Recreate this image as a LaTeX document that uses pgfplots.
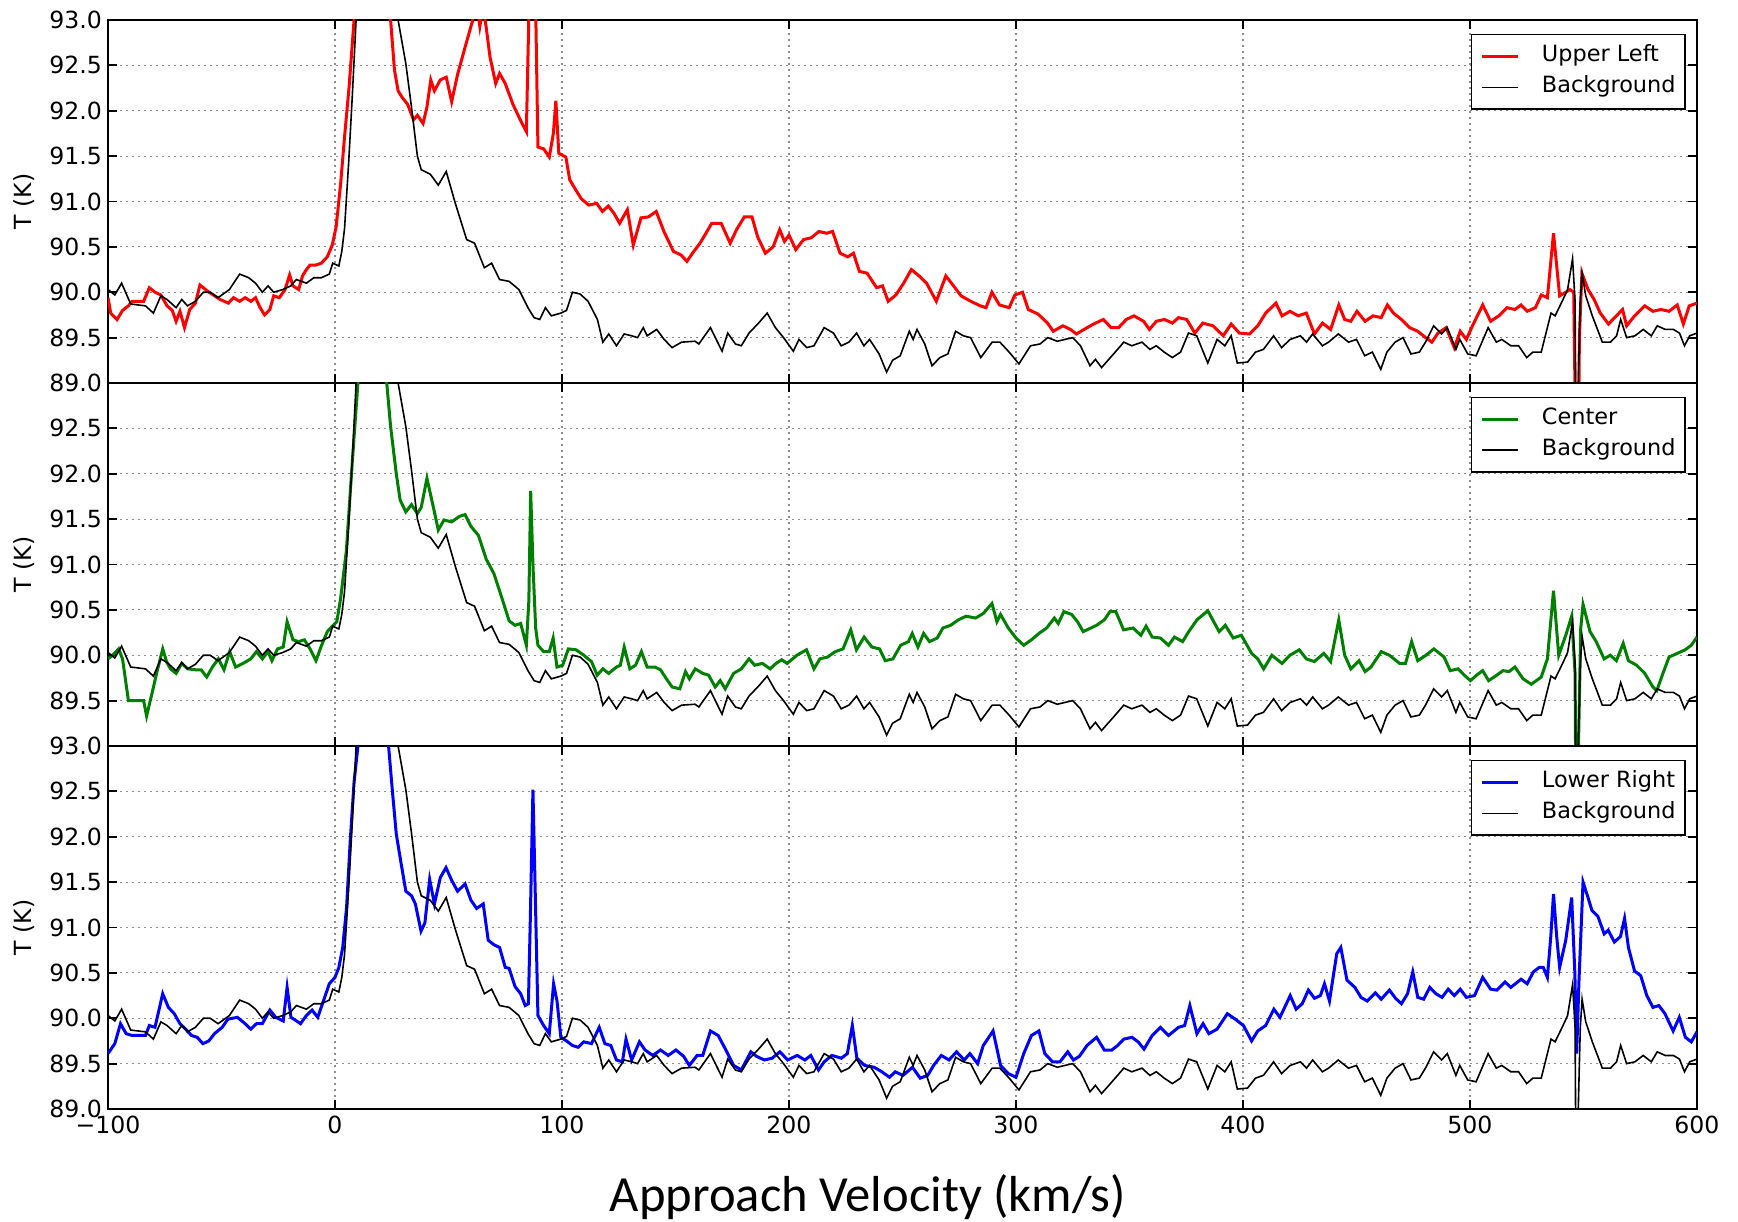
\documentclass[border=0pt]{standalone}
\usepackage{fontspec}
\setmainfont{DejaVu Sans}
\newfontfamily\labelfont{Carlito}
\usepackage{pgfplots}
\usepackage{pgfplotstable}
\pgfplotsset{compat=1.18}

\definecolor{mplred}{rgb}{1,0,0}
\definecolor{mplgreen}{rgb}{0,0.5,0}
\definecolor{mplblue}{rgb}{0,0,1}

% background spectrum (shared by all three panels)
\pgfplotstableread{
v T
-100 90.03
-97 89.97
-94 90.10
-90 89.87
-83.5 89.85
-80 89.77
-76.7 89.96
-74 89.92
-70 89.83
-67.5 89.92
-65 89.85
-61.5 89.90
-58 90.00
-55 90.00
-51.5 89.94
-46.5 90.03
-42 90.20
-38 90.16
-35 90.10
-32 90.00
-29.5 90.07
-27 90.00
-23 90.03
-19.5 90.07
-17 90.14
-12.6 90.10
-9.3 90.16
-6 90.16
-2.5 90.20
-1 90.32
1.7 90.29
3 90.45
4.2 90.70
6 91.42
7.6 92.15
9.3 93.00
12 94.3
16 95.5
20 95.7
24 94.8
27.8 93.00
31.2 92.52
33.7 92.04
36.3 91.50
38 91.35
42 91.30
45.5 91.18
49 91.33
53 90.98
58 90.58
61.5 90.54
65.8 90.27
69 90.32
72.5 90.14
76.7 90.12
81 90.03
85 89.83
87.7 89.72
90.2 89.70
92.7 89.83
95.3 89.74
99.5 89.77
102 89.80
104.6 90.00
108 89.98
111.5 89.90
115.6 89.70
118 89.45
120.6 89.54
124 89.41
127.4 89.54
130.7 89.52
133.3 89.50
135.8 89.61
137.5 89.52
141.7 89.59
145 89.48
148.5 89.39
152.7 89.45
158.6 89.46
160.3 89.43
165.4 89.61
170.5 89.35
173 89.55
176.4 89.43
179 89.41
182.4 89.55
186.6 89.66
190.4 89.77
194 89.61
197.6 89.50
201.9 89.35
204.4 89.48
207.8 89.39
211 89.41
215.5 89.61
219.6 89.55
223 89.41
226.4 89.45
229.8 89.55
233 89.41
235.5 89.48
239.7 89.32
243 89.12
245.6 89.25
249 89.30
253 89.57
254.7 89.48
256.4 89.59
259.8 89.43
263 89.19
266.5 89.28
270 89.32
273.4 89.57
276.8 89.52
280 89.50
284.5 89.28
289.5 89.45
292.9 89.45
297 89.34
301.3 89.21
306.4 89.41
310.6 89.43
314 89.50
318.2 89.46
321.6 89.48
325 89.50
328.4 89.41
332.6 89.19
335 89.26
337.7 89.17
343 89.32
347.5 89.45
351 89.41
355.5 89.45
359 89.37
361.8 89.41
365.3 89.34
368.9 89.28
372.5 89.34
376 89.55
379.6 89.52
384.5 89.22
388.6 89.48
392 89.41
394.8 89.52
397.5 89.22
402 89.23
405.5 89.34
409 89.37
413.5 89.52
417 89.39
420.8 89.48
425.3 89.52
428 89.45
430.7 89.54
435 89.41
437.7 89.45
442 89.54
446.5 89.45
450 89.48
453.6 89.30
457 89.34
460.7 89.15
463.4 89.34
467 89.45
470.5 89.50
474 89.32
477.7 89.34
480.4 89.45
484 89.63
487.5 89.54
490 89.61
493.8 89.37
495.5 89.48
499 89.32
502.7 89.30
508 89.61
511.6 89.45
514 89.48
518 89.41
521.4 89.41
525 89.28
527.7 89.34
531.4 89.34
535.7 89.77
537.5 89.74
541 89.92
543 90.03
545.2 90.37
546.3 89.90
547 87.00
547.7 89.00
548.6 89.90
549.4 90.21
551 89.96
553.9 89.74
558.3 89.45
561.9 89.45
564.6 89.52
566.4 89.70
569 89.50
572.7 89.52
576.3 89.59
579.9 89.52
582.5 89.63
586 89.59
589.6 89.59
592.3 89.55
594.5 89.41
596.8 89.52
600 89.55
}\bgdata

\pgfplotsset{
  panel/.style={
    scale only axis,
    width=397.25pt, height=90.75pt,
    xmin=-100, xmax=600, ymin=89, ymax=93,
    xtick={-100,0,100,200,300,400,500,600},
    ytick={89,89.5,90,90.5,91,91.5,92,92.5,93},
    grid=major,
    major grid style={black!45, line width=0.3pt, dash pattern=on 0.4pt off 1.1pt},
    axis line style={line width=0.45pt},
    every tick/.style={black, line width=0.45pt},
    major tick length=2.2pt,
    tick align=inside,
    tick label style={font=\fontsize{5.9}{7}\selectfont},
    /pgf/number format/assume math mode=true,
    yticklabel style={inner xsep=1.3pt},
    xticklabel style={inner ysep=1.6pt},
    ylabel={T (K)},
    ylabel style={at={(axis description cs:-0.053,0.5)}, anchor=center,
      font=\fontsize{5.9}{7}\selectfont},
    legend cell align=left,
    legend style={nodes={inner xsep=0pt},
      at={(1,1)}, anchor=north east, xshift=-2.75pt, yshift=-3.4pt,
      draw=black, line width=0.4pt, fill=white,
      font=\fontsize{5.6}{6.7}\selectfont,
      inner xsep=2.4pt, inner ysep=0.6pt, row sep=-2pt,
      /tikz/every odd column/.append style={column sep=5.5pt}},
    legend image code/.code={\draw[##1] (0pt,0pt) -- (9pt,0pt);},
  },
  sig/.style={line width=0.75pt},
  bg/.style={black, line width=0.4pt},
}

\begin{document}
\begin{tikzpicture}
\path[use as bounding box] (0,0) rectangle (434.5pt,305.5pt);

% ---------------- Upper Left ----------------
\begin{axis}[panel, at={(27pt,209.75pt)}, anchor=south west,
  xticklabels={},
  yticklabels={89.0,89.5,90.0,90.5,91.0,91.5,92.0,92.5,93.0}]
\addplot[mplred, sig] table {
x y
-100 89.94
-98.8 89.77
-96 89.70
-93.6 89.80
-91 89.85
-89.4 89.90
-84.3 89.90
-81.8 90.05
-79.3 90.00
-76.7 89.97
-74 89.85
-71.7 89.80
-70 89.68
-68.3 89.79
-66.3 89.61
-64 89.81
-61.5 89.88
-59.5 90.08
-57 90.03
-55.5 90.00
-53 89.96
-50.6 89.92
-47 89.88
-44.7 89.94
-42 89.90
-39.6 89.94
-37 89.90
-35 89.94
-33 89.83
-31 89.75
-28.7 89.81
-27 89.96
-24.5 89.94
-22 90.03
-20 90.19
-18.5 90.07
-16 90.03
-14.3 90.18
-12.6 90.25
-11 90.30
-8.4 90.30
-6 90.32
-3.4 90.39
-1.2 90.52
0.5 90.72
2.5 91.20
4.2 91.71
6.2 92.26
8.4 93.00
11 94.6
15 96.0
20 96.0
23 94.5
24.5 93.00
26.2 92.45
27.8 92.22
29.5 92.15
32 92.07
34.6 91.90
36.3 91.95
38.8 91.86
40.5 92.04
42.2 92.34
43.8 92.22
46.4 92.34
49 92.37
51.4 92.10
54 92.40
57.3 92.70
60.7 93.00
62.3 93.20
63.8 92.93
65.2 93.15
66.6 92.92
68.3 92.59
70.8 92.30
72.5 92.41
75 92.30
78.4 92.07
81.8 91.89
84.3 91.77
85.8 93.5
87 94.5
88.3 93.3
89.4 91.60
91.9 91.58
94.4 91.49
96.2 91.75
97.3 92.11
98.6 91.53
101.7 91.49
103.4 91.24
106 91.13
108.5 91.03
111.8 90.96
115.3 90.98
117.8 90.89
120.4 90.95
122.9 90.87
125.4 90.76
128.8 90.91
131.4 90.52
134.8 90.82
138.1 90.83
141.5 90.89
144.9 90.67
149.1 90.45
152.5 90.41
155 90.34
157.5 90.43
160.8 90.54
166 90.76
170.1 90.76
174.1 90.54
176.9 90.69
180.3 90.83
183.7 90.83
186.2 90.61
189.6 90.43
193 90.50
195.9 90.69
198 90.56
200 90.63
203 90.47
206.4 90.58
209.8 90.60
213.2 90.67
216.6 90.65
219.2 90.67
222.5 90.43
225.9 90.39
228.4 90.43
231 90.23
234.4 90.21
238.6 90.05
241.2 90.07
243.7 89.90
247.1 89.97
250.5 90.10
253.9 90.25
257.3 90.18
260.6 90.10
264.9 89.90
269.1 90.18
272.5 90.07
275.8 89.96
280.1 89.90
284.3 89.85
286.8 89.83
289.4 90.00
292.7 89.86
297 89.83
299.5 89.97
302.9 90.00
305.4 89.81
309.7 89.76
313.9 89.66
316.4 89.57
320.7 89.63
324 89.59
326.6 89.54
330 89.59
334.2 89.65
338.5 89.70
341.9 89.61
345.2 89.61
348.6 89.70
352 89.74
356.2 89.68
358.8 89.59
361.8 89.68
365.4 89.70
368.9 89.66
371.6 89.72
375.2 89.70
378.8 89.55
382.3 89.66
386.8 89.63
391.3 89.52
394.8 89.65
398.4 89.55
402.9 89.54
406.5 89.63
410 89.77
414.5 89.88
417.2 89.74
420.7 89.79
424.3 89.74
427.9 89.77
431.5 89.54
435 89.66
438.6 89.59
442.2 89.86
444.8 89.70
447.5 89.68
450.2 89.79
453.8 89.68
457.3 89.74
460.9 89.72
463.6 89.86
466.3 89.77
469.8 89.70
473.4 89.61
477 89.57
480.5 89.50
483.2 89.45
485.9 89.55
489.5 89.61
493.1 89.39
495.7 89.57
498.4 89.48
501.1 89.63
505.6 89.86
509.1 89.68
512.7 89.74
516.3 89.83
519.8 89.81
522.5 89.86
525.2 89.79
528.8 89.83
531.4 89.97
534.1 89.94
536.8 90.65
539.5 89.96
542.2 90.00
544 90.03
545.7 90.00
547.3 87.00
548.2 89.50
549.3 90.21
552 90.03
554.7 89.92
557.4 89.77
561 89.65
564.5 89.74
567.2 89.81
569 89.63
572.5 89.74
577 89.85
580.6 89.79
584.1 89.81
587.7 89.79
591.3 89.86
594 89.65
596.6 89.85
600 89.88
};
\addlegendentry{Upper Left}
\addplot[bg] table[x=v, y=T] {\bgdata};
\addlegendentry{Background}
\end{axis}

% ---------------- Center ----------------
\begin{axis}[panel, at={(27pt,119pt)}, anchor=south west,
  xticklabels={},
  yticklabels={{},89.5,90.0,90.5,91.0,91.5,92.0,92.5,{}}]
\addplot[mplgreen, sig] table {
x y
-100 89.96
-98 90.00
-95.3 90.07
-93.6 89.96
-91 89.50
-86.8 89.50
-84.3 89.50
-83 89.33
-80.8 89.56
-78.4 89.82
-75.9 90.07
-74.2 89.93
-72.5 89.85
-70 89.80
-67.5 89.91
-64.9 89.85
-61.5 89.84
-59 89.84
-56.5 89.76
-54 89.87
-51.4 89.96
-48.9 89.84
-46.4 90.04
-43.8 89.87
-40.5 89.91
-37.1 89.96
-34.6 90.04
-32 89.96
-29.5 90.04
-27.8 89.94
-25.3 90.07
-22.8 90.09
-21.1 90.37
-18.5 90.17
-16 90.15
-13.5 90.17
-11 90.07
-8.4 89.94
-5.9 90.11
-3.4 90.26
-0.8 90.33
0.8 90.37
2.5 90.63
5 91.15
7.6 92.12
10.1 93.00
13 94.5
17 95.5
20.5 94.5
22.8 93.00
24.5 92.52
27 92.00
28.7 91.71
31.2 91.58
33.7 91.66
36.3 91.56
38 91.63
40.5 91.95
43 91.67
45.5 91.38
48 91.49
51.4 91.47
54.8 91.53
57.3 91.55
59.9 91.42
63.2 91.32
66.6 91.06
70 90.90
73.4 90.64
76.7 90.38
79.3 90.33
81.8 90.35
84.3 90.11
85.4 90.60
86.2 91.81
87.2 91.00
88.4 90.30
89.4 90.11
91.9 90.04
94.4 90.04
96.1 90.19
97.8 89.87
100.3 89.89
102.8 90.07
106.2 90.06
109.6 90.00
113 89.93
115.5 89.78
118 89.85
120.6 89.80
124 89.87
125.7 89.89
127.4 90.09
129.9 89.85
132.4 89.89
135 90.04
137.5 89.87
140.9 89.87
143.4 89.84
146 89.74
148.5 89.65
151.9 89.63
154.4 89.82
156.1 89.74
158.7 89.85
162 89.80
164.6 89.78
167.5 89.65
169.7 89.72
171.9 89.63
175.6 89.80
179 89.85
182.4 89.96
184.9 89.89
188.3 89.91
191.7 89.85
194.3 89.91
196.8 89.95
199.2 89.91
203.5 90.00
207.7 90.06
211 89.85
213.6 89.96
217 89.98
220.4 90.04
223.8 90.07
227.2 90.28
229.7 90.06
233.1 90.20
236.5 90.09
239.9 90.07
242.4 89.94
245.8 89.96
249.2 90.11
252.6 90.15
254.3 90.24
256.8 90.09
259.3 90.24
261.9 90.15
265.3 90.19
267.8 90.30
271.2 90.33
274.6 90.39
278 90.43
282.2 90.41
285.6 90.46
289.4 90.57
291.6 90.37
293.2 90.45
296.6 90.30
300 90.19
303.4 90.11
306.8 90.17
310.1 90.24
313.5 90.30
316.9 90.41
318.6 90.35
321.1 90.48
324.5 90.45
327.1 90.37
329.6 90.26
333 90.30
335.5 90.33
338.9 90.39
341.4 90.48
344 90.48
347.4 90.28
351.6 90.30
355 90.22
357.3 90.32
360 90.20
363.6 90.19
367.2 90.11
369.8 90.20
373.4 90.15
376.1 90.26
379.7 90.39
384.5 90.49
389.5 90.26
392.2 90.33
395.7 90.19
399.3 90.22
403.8 90.02
406.5 89.96
409.1 89.85
412.7 90.00
417.2 89.91
420.7 90.00
424.8 90.06
427.9 89.96
431.4 89.93
435.6 90.02
438.6 89.93
442.2 90.39
444.8 90.00
447.5 89.85
451.1 89.94
453.8 89.82
456.4 89.87
460.9 90.04
464.5 90.00
469 89.91
471.6 89.91
474.3 90.15
477 89.94
480.6 90.00
484.1 90.07
488.6 89.98
491.3 89.83
494.8 89.85
497.5 89.78
500.2 89.72
502.9 89.78
505.6 89.83
508.2 89.72
511.8 89.78
514.5 89.83
517.2 89.82
519.8 89.87
523.4 89.74
527 89.68
531.4 89.76
534.1 89.96
536.8 90.71
539.1 90.00
542.2 90.22
544.8 90.43
546.3 89.80
547 87.00
547.8 89.00
548.8 90.30
549.8 90.56
552.9 90.26
555.6 90.15
559.1 89.96
561.8 90.00
564.5 89.94
567.5 90.13
569.8 89.94
573.4 89.89
577 89.80
580.6 89.65
582.3 89.61
585 89.80
587.7 89.98
591.3 90.02
594.8 90.06
597.5 90.11
600 90.20
};
\addlegendentry{Center}
\addplot[bg] table[x=v, y=T] {\bgdata};
\addlegendentry{Background}
\end{axis}

% ---------------- Lower Right ----------------
\begin{axis}[panel, at={(27pt,28.25pt)}, anchor=south west,
  xticklabels={−100,0,100,200,300,400,500,600},
  yticklabels={89.0,89.5,90.0,90.5,91.0,91.5,92.0,92.5,93.0}]
\addplot[mplblue, sig] table {
x y
-100 89.61
-97 89.72
-94.5 89.94
-92 89.83
-89.4 89.81
-83.5 89.81
-81.8 89.92
-79.3 89.90
-75.9 90.27
-73.4 90.12
-70.8 90.05
-68.3 89.94
-65.8 89.88
-63.2 89.81
-60.7 89.79
-58.2 89.72
-55.6 89.75
-53.1 89.83
-49.7 89.90
-47.2 89.99
-43 90.01
-39.6 89.94
-37.1 89.88
-34.6 89.94
-32 89.94
-28.7 90.09
-26.1 90.01
-22.8 89.97
-21.1 90.34
-19.4 90.01
-16.9 89.97
-15.2 89.94
-12.6 90.03
-10.1 90.09
-7.6 90.01
-5.1 90.19
-2.5 90.38
0 90.45
1.7 90.56
3.4 90.78
5.1 91.22
6.7 91.95
8.4 92.60
10.1 93.00
13 94.5
17 95.5
21 94.5
23.6 93.00
25.3 92.50
27 92.03
28.7 91.77
31.2 91.40
33.7 91.35
35.4 91.26
37.9 90.96
39.6 91.05
41.7 91.53
43.8 91.26
46.4 91.55
48.9 91.66
51.4 91.52
54 91.40
57.3 91.48
59.9 91.30
62.4 91.21
65.3 91.26
67.5 90.86
70 90.81
72.5 90.78
75 90.56
76.7 90.55
79.3 90.35
81.8 90.27
83.8 90.14
85.2 90.16
86 91.04
87.2 92.52
88.2 91.40
89.4 90.03
91.9 89.92
94.4 89.83
96.3 90.38
97.8 90.19
99.5 89.79
102 89.75
104.6 89.70
107.1 89.68
109.6 89.74
113 89.72
116.4 89.90
118.9 89.72
121.5 89.70
124 89.54
126.6 89.52
128.2 89.77
130.7 89.54
134.1 89.74
136.6 89.65
140 89.59
143.4 89.65
146.8 89.59
150.2 89.65
153.6 89.58
156.1 89.48
159.5 89.59
162 89.59
165.4 89.86
168.8 89.81
172.2 89.65
175.6 89.48
179 89.43
183.2 89.63
185.7 89.58
189.2 89.54
192.6 89.56
196 89.63
199.4 89.54
203.6 89.59
207 89.54
209.6 89.59
213 89.43
215.5 89.52
218.9 89.59
223.1 89.56
225.7 89.61
227.9 89.92
229.9 89.56
233.3 89.48
237.5 89.46
240.9 89.41
244.3 89.35
246.8 89.41
250.2 89.37
254.4 89.46
257.8 89.34
261.1 89.37
263.7 89.48
267.1 89.59
270.5 89.54
273.8 89.63
277.2 89.54
279.7 89.61
283.1 89.50
285.6 89.70
289.9 89.86
293.2 89.48
296.6 89.39
300 89.35
303.4 89.61
306.8 89.81
310.1 89.86
312.7 89.61
316.1 89.52
319.4 89.52
322.8 89.63
325.3 89.54
327.9 89.58
331.3 89.70
335.5 89.79
338.9 89.65
342.2 89.65
344.8 89.70
347.5 89.77
351.1 89.79
353.8 89.74
356.4 89.66
360 89.81
363.6 89.90
367.2 89.81
371.6 89.90
374.3 89.92
376.6 90.14
379.7 89.83
382.4 89.94
385 89.83
388.6 89.88
393.1 90.05
396.6 89.99
400.2 89.92
403.8 89.75
406.5 89.86
410 89.92
413.6 90.10
416.3 90.01
420.8 90.25
423.4 90.10
426.1 90.16
428.8 90.31
431.5 90.22
434.1 90.25
435.9 90.38
438.1 90.19
441.3 90.71
443.1 90.78
445.8 90.42
449.3 90.34
452 90.23
454.7 90.19
458.3 90.28
460.9 90.21
464.5 90.31
467.2 90.22
469.8 90.16
472.5 90.27
474.8 90.51
477 90.23
479.6 90.21
482.3 90.34
485 90.27
487.7 90.23
490.4 90.32
493.1 90.25
495.7 90.32
498.4 90.23
502 90.25
505.6 90.45
509.1 90.32
511.8 90.31
515.4 90.40
518 90.34
522.5 90.43
525.2 90.38
527.9 90.51
530.5 90.56
532.3 90.56
534.1 90.45
535.6 90.90
536.8 91.37
538.2 90.90
539.5 90.56
542.2 90.86
544.8 91.33
546.2 90.50
547 89.61
548 90.40
549.8 91.50
552 91.33
553.7 91.19
556.4 91.12
559.1 90.93
560.9 90.97
563.6 90.84
566.3 90.90
568.1 91.10
569.8 90.78
572.5 90.52
575.2 90.47
577.9 90.25
580.6 90.12
583.2 90.14
585.9 90.05
589.5 89.86
592.2 90.01
594.9 89.79
597.5 89.74
600 89.85
};
\addlegendentry{Lower Right}
\addplot[bg] table[x=v, y=T] {\bgdata};
\addlegendentry{Background}
\end{axis}

\node[anchor=base, font=\labelfont\fontsize{12.65}{15}\selectfont] at (217pt,2.6pt) {Approach Velocity (km/s)};
\end{tikzpicture}
\end{document}
